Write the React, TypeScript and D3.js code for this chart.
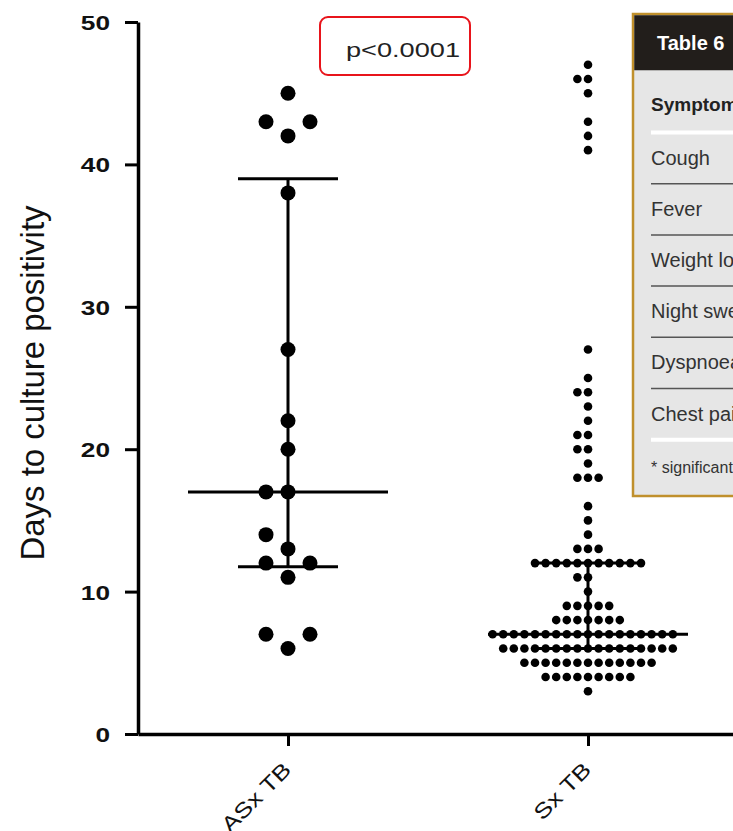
import { useEffect, useRef } from "react";
import * as d3 from "d3";

// groups on the x axis
const groups = ["ASx TB", "Sx TB"];
// days to culture positivity, asymptomatic TB
const asxDays = [6, 7, 7, 11, 12, 12, 13, 14, 17, 17, 20, 22, 27, 38, 42, 43, 43, 45];
// symptomatic TB, as value + how many dots sit at that value
const sxDayValues = [3, 4, 5, 6, 7, 8, 9, 10, 11, 12, 13, 14, 15, 16, 18, 19, 20, 21, 22, 23, 24, 25, 27, 41, 42, 43, 45, 46, 47];
const sxDayCounts = [1, 9, 13, 17, 18, 7, 5, 1, 2, 11, 3, 1, 1, 1, 3, 1, 2, 2, 1, 1, 2, 1, 1, 1, 1, 1, 1, 2, 1];
const yTicks = [0, 10, 20, 30, 40, 50];
const yLabel = "Days to culture positivity";
const pLabel = "p<0.0001";

// the table that overlaps the right side of the figure
const tableTitle = "Table 6";
const tableHeader = "Symptom";
const tableRows = ["Cough", "Fever", "Weight loss", "Night sweats", "Dyspnoea", "Chest pain"];
const tableNote = "* significant";

const W = 733;
const H = 831;
const FONT = "'Liberation Sans', Arial, sans-serif";

const sxDays = sxDayValues.flatMap((v, i) => d3.range(sxDayCounts[i]).map(() => v));

// quartiles the way Prism does it: (n+1)p
function quant(sorted: number[], p: number) {
  const h = (sorted.length + 1) * p;
  const lo = Math.floor(h);
  const a = sorted[Math.max(0, lo - 1)];
  const b = sorted[Math.min(sorted.length - 1, lo)];
  return a + (h - lo) * (b - a);
}

// greedy column scatter, grid steps, no overlap
function swarm(values: number[], y: (v: number) => number, step: number, r: number) {
  const placed: { v: number; cy: number; dx: number }[] = [];
  const sorted = [...values].sort((a, b) => a - b);
  for (const v of sorted) {
    const cy = y(v);
    let done = false;
    for (let k = 0; !done; k++) {
      const cands = k === 0 ? [0] : [-k, k];
      for (const c of cands) {
        const dx = c * step;
        if (placed.every((p) => Math.hypot(p.dx - dx, p.cy - cy) >= 2 * r - 0.01)) {
          placed.push({ v, cy, dx });
          done = true;
          break;
        }
      }
    }
  }
  return placed;
}

export default function App() {
  const yAxisRef = useRef<SVGGElement>(null);
  const xAxisRef = useRef<SVGGElement>(null);

  const y = d3.scaleLinear().domain([0, 50]).range([734, 22]);
  const x = d3.scalePoint().domain(groups).range([138, 738]).padding(0.5);

  const sets = [
    { name: groups[0], vals: asxDays, r: 7.5, step: 22 },
    { name: groups[1], vals: sxDays, r: 4.3, step: 10.6 },
  ].map((s) => {
    const sorted = [...s.vals].sort((a, b) => a - b);
    return {
      ...s,
      cx: x(s.name) as number,
      dots: swarm(s.vals, y, s.step, s.r),
      med: quant(sorted, 0.5),
      q1: quant(sorted, 0.25),
      q3: quant(sorted, 0.75),
    };
  });

  useEffect(() => {
    const ya = d3.select(yAxisRef.current);
    ya.selectAll("*").remove();
    ya.call(d3.axisLeft(y).tickValues(yTicks).tickSize(13).tickSizeOuter(0));
    ya.select(".domain").attr("stroke-width", 3.5);
    ya.selectAll(".tick line").attr("stroke-width", 3);
    ya.selectAll(".tick text")
      .attr("x", null)
      .attr("dy", null)
      .attr("fill", "#111")
      .attr("font-family", FONT)
      .attr("font-size", 21)
      .attr("font-weight", "bold")
      .attr("text-anchor", "end")
      .attr("transform", "translate(-28,7.5) scale(1.25,1)");

    const xa = d3.select(xAxisRef.current);
    xa.selectAll("*").remove();
    xa.call(d3.axisBottom(x).tickSize(12).tickSizeOuter(0));
    xa.select(".domain").attr("stroke-width", 3.5);
    xa.selectAll(".tick line").attr("stroke-width", 3);
    xa.selectAll(".tick text")
      .attr("y", null)
      .attr("dy", null)
      .attr("fill", "#111")
      .attr("font-family", FONT)
      .attr("font-size", 21)
      .attr("text-anchor", "end")
      .attr("transform", "translate(4,37) rotate(-45) scale(1.25,1)");
  }, []);

  const rowH = 51.2;
  const rowTop = 132.5;

  return (
    <svg
      width={W}
      height={H}
      style={{ position: "absolute", left: 0, top: 0, background: "#fff" }}
    >
      <g ref={yAxisRef} transform="translate(138,0)" />
      <g ref={xAxisRef} transform="translate(0,734)" />

      <text
        transform="translate(44,383) rotate(-90)"
        textAnchor="middle"
        fontFamily={FONT}
        fontSize={34}
        textLength={355}
        lengthAdjust="spacingAndGlyphs"
        fill="#111"
      >
        {yLabel}
      </text>

      {sets.map((s) => (
        <g key={s.name}>
          {s.dots.map((d, i) => (
            <circle key={i} cx={s.cx + d.dx} cy={d.cy} r={s.r} fill="#000" />
          ))}
          <line x1={s.cx} x2={s.cx} y1={y(s.q3)} y2={y(s.q1)} stroke="#000" strokeWidth={3} />
          <line x1={s.cx - 100} x2={s.cx + 100} y1={y(s.med)} y2={y(s.med)} stroke="#000" strokeWidth={3} />
          <line x1={s.cx - 50} x2={s.cx + 50} y1={y(s.q3)} y2={y(s.q3)} stroke="#000" strokeWidth={3} />
          <line x1={s.cx - 50} x2={s.cx + 50} y1={y(s.q1)} y2={y(s.q1)} stroke="#000" strokeWidth={3} />
        </g>
      ))}

      <rect x={320} y={17} width={150} height={58} rx={8} fill="#fff" stroke="#e8141b" strokeWidth={2} />
      <text
        x={346}
        y={57}
        fontFamily={FONT}
        fontSize={21}
        textLength={114}
        lengthAdjust="spacingAndGlyphs"
        fill="#222"
      >
        {pLabel}
      </text>

      {/* table overlay, cut by the right edge */}
      <rect x={633} y={14} width={140} height={482} fill="#e6e6e6" stroke="#c0902c" strokeWidth={2.5} />
      <rect x={634.25} y={15.25} width={140} height={55} fill="#221e1b" />
      <text x={657} y={50} fontFamily={FONT} fontSize={20} fontWeight="bold" fill="#fff">
        {tableTitle}
      </text>
      <text x={651} y={111} fontFamily={FONT} fontSize={19} fontWeight="bold" fill="#222">
        {tableHeader}
      </text>
      <line x1={651} x2={W} y1={rowTop} y2={rowTop} stroke="#fff" strokeWidth={4} />
      {tableRows.map((t, i) => (
        <g key={t}>
          <text x={651} y={rowTop + i * rowH + 32} fontFamily={FONT} fontSize={20} fill="#333">
            {t}
          </text>
          {i < tableRows.length - 1 && (
            <line
              x1={651}
              x2={W}
              y1={rowTop + (i + 1) * rowH}
              y2={rowTop + (i + 1) * rowH}
              stroke="#555"
              strokeWidth={1.5}
            />
          )}
        </g>
      ))}
      <line
        x1={651}
        x2={W}
        y1={rowTop + tableRows.length * rowH}
        y2={rowTop + tableRows.length * rowH}
        stroke="#fff"
        strokeWidth={4}
      />
      <text x={651} y={473} fontFamily={FONT} fontSize={16} fill="#333">
        {tableNote}
      </text>
    </svg>
  );
}
